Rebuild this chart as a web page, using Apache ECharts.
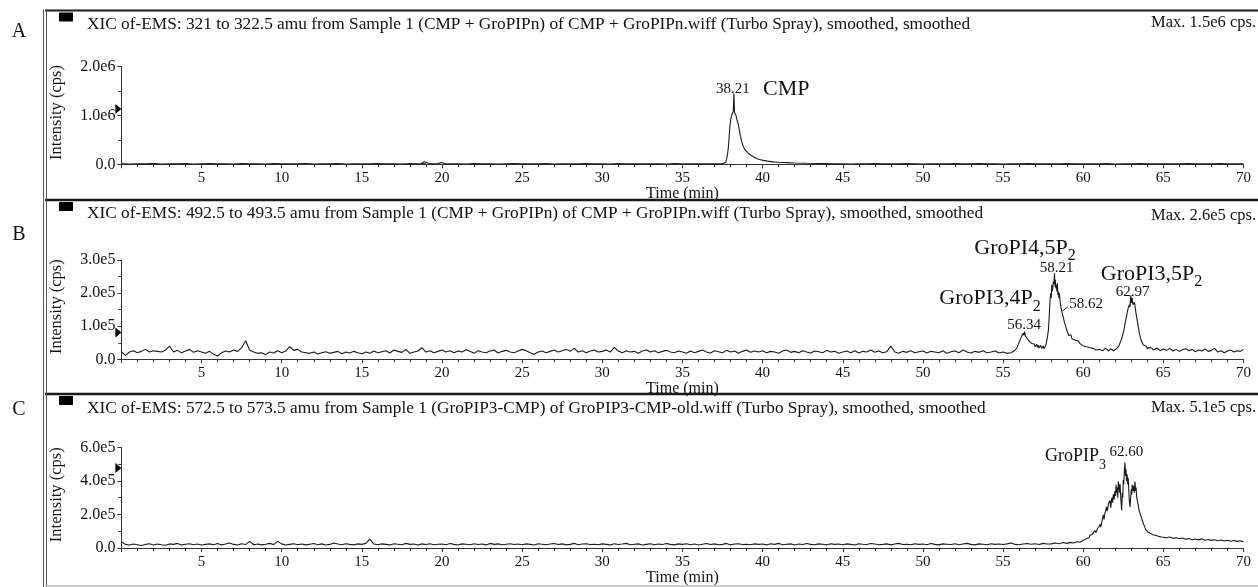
<!DOCTYPE html>
<html>
<head>
<meta charset="utf-8">
<script src="https://cdn.jsdelivr.net/npm/echarts@6/dist/echarts.min.js"></script>
<style>
  html, body { margin: 0; padding: 0; background: #fff; }
  #chart { width: 1258px; height: 587px; }
</style>
</head>
<body>
<div id="chart"></div>
<script>
// ---- Extracted-ion chromatograms (intensity in kcps, time in min) ----

// Panel A: m/z 321-322.5 (CMP)
const cmpBaseEarly = [10,6,12,8,14,7,11,9,15,6,10,13,8,12,7,14,9,11,6,13,
                      8,12,10,15,7,11,9,13,6,12,10,8,14,9,11,7,13,10,9];      // 0 .. 18.5, every 0.5 min
const cmpBumps = [[18.7,12],[18.88,55],[19.05,30],[19.25,10],[19.5,8],[19.75,14],[19.98,35],[20.2,12],[20.5,9]];
const cmpBaseMid = [11,7,13,9,12,6,10,14,8,11,9,13,7,12,10,8,14,9,11,6,13,10,8,12,9,11,7,14,10,8,12,9,11,8]; // 21 .. 37.5
const cmpPeak = [[37.6,10],[37.7,40],[37.8,180],[37.86,330],[37.92,600],[37.97,810],[38.02,930],[38.07,1010],
                 [38.12,1050],[38.17,1080],[38.21,1450],[38.25,1060],[38.3,1030],[38.34,1000],[38.4,910],[38.49,810],
                 [38.59,620],[38.7,460],[38.8,360],[38.9,300],[39.0,260],[39.15,210],[39.32,175],[39.5,140],
                 [39.63,120],[39.8,100],[40.04,80],[40.3,65],[40.65,50],[41.0,42],[41.5,35],[42.0,28],[42.75,20],[43.5,15]];
const cmpBaseLate = [13,9,11,7,12,10,14,8,11,9,13,10,7,12,9,11,14,8,10,13,9,12,7,11,10,14,8,12,9,11,
                     13,8,10,12,9,14,7,11,10,13,8,12,9,11,10,14,8,12,9,13,10,11,9];  // 44 .. 70

// Panel B: m/z 492.5-493.5 (GroPI bisphosphates)
const pi2Base = [23,12,22,26,20,24,30,22,26,24,22,28,40,22,27,20,25,30,21,26,
                 22,18,24,15,10,20,25,22,28,24,35,56,28,22,18,20,14,22,19,26,
                 20,25,38,27,30,22,20,18,22,16,20,23,18,21,24,17,22,19,24,20,
                 17,22,18,25,20,23,26,19,28,24,21,30,18,22,25,35,22,26,20,24,
                 28,22,26,20,25,22,29,24,18,26,22,20,25,28,19,24,27,22,20,25,
                 30,26,20,15,22,25,20,24,28,22,26,30,24,33,22,26,20,25,28,22,
                 24,28,22,36,25,20,26,22,24,18,25,28,22,26,20,24,27,22,20,25,
                 22,18,25,20,24,28,22,19,26,23,20,27,22,25,18,24,28,21,25,22,
                 26,20,24,22,18,25,28,21,24,20,26,22,19,25,23,20,27,22,24,18,
                 22,25,20,26,19,24,22,28,21,25,20,23,40,22,18,24,21,26,20,23,
                 25,19,24,22,20,26,18,23,25,20,28,22,19,24,21,26,20,22,25,19];  // 0 .. 54.75, every 0.25 min
const pi2Peaks = [[55.0,22],[55.25,18],[55.5,20],[55.7,26],[55.85,33],[55.95,45],[56.06,58],[56.12,52],[56.16,70],
                  [56.22,64],[56.26,79],[56.3,72],[56.34,84],[56.4,70],[56.45,76],[56.52,62],[56.58,66],[56.64,54],
                  [56.7,55],[56.79,48],[56.85,52],[56.9,42],[56.95,46],[57.0,38],[57.05,44],[57.1,45],[57.15,36],
                  [57.2,43],[57.25,34],[57.3,36],[57.35,42],[57.41,33],[57.46,38],[57.5,40],[57.56,32],[57.62,38],
                  [57.68,44],[57.72,48],[57.78,70],[57.83,89],[57.88,130],[57.93,179],[57.98,200],[58.01,185],
                  [58.04,225],[58.07,205],[58.1,215],[58.14,235],[58.18,228],[58.21,260],[58.24,220],[58.26,240],
                  [58.29,215],[58.32,225],[58.36,205],[58.39,230],[58.42,195],[58.45,205],[58.48,185],[58.51,200],
                  [58.56,175],[58.62,154],[58.66,150],[58.7,138],[58.75,128],[58.8,124],[58.84,110],[58.88,105],
                  [58.92,98],[58.96,94],[59.0,84],[59.05,80],[59.1,72],[59.17,68],[59.23,74],[59.3,62],[59.38,66],
                  [59.48,58],[59.54,63],[59.6,52],[59.7,55],[59.79,48],[59.87,52],[59.95,42],[60.05,46],[60.2,38],
                  [60.3,42],[60.4,35],[60.5,38],[60.63,33],[60.7,36],[60.8,28],[60.9,34],[61.04,30],[61.1,35],
                  [61.2,26],[61.3,30],[61.4,33],[61.5,27],[61.6,25],[61.7,32],[61.8,30],[61.9,26],[62.0,28],
                  [62.08,32],[62.15,35],[62.22,40],[62.27,45],[62.34,55],[62.4,62],[62.45,72],[62.5,80],[62.55,90],
                  [62.6,105],[62.65,118],[62.7,130],[62.75,142],[62.8,154],[62.84,148],[62.88,165],[62.92,158],
                  [62.97,193],[63.01,170],[63.06,185],[63.1,165],[63.16,160],[63.2,172],[63.23,170],[63.26,150],
                  [63.29,144],[63.33,128],[63.36,120],[63.4,110],[63.43,99],[63.47,90],[63.5,80],[63.54,72],
                  [63.58,63],[63.62,58],[63.66,52],[63.7,48],[63.75,43],[63.8,46],[63.85,38],[63.92,40],[64.0,33]];
const pi2Tail = [36,28,34,26,31,27,33,25,30,24,29,32,26,30,23,28,25,31,24,27,33,22,26,20,25,28,22,26,24,30]; // 64.2 .. 70, every 0.2 min

// Panel C: m/z 572.5-573.5 (GroPIP3)
const pip3Base = [38,22,18,24,20,15,22,26,18,24,20,17,25,22,28,19,23,26,20,24,
                  18,22,25,20,27,19,24,30,22,18,26,21,40,20,24,19,23,28,21,40,
                  25,18,22,26,20,24,19,23,27,20,25,18,22,30,24,20,26,22,19,25,
                  22,28,53,24,20,25,22,19,26,23,20,28,22,24,18,25,21,26,20,23,
                  24,20,27,22,18,25,23,20,26,21,24,19,28,22,25,20,23,26,21,24,
                  20,25,22,18,26,23,20,24,27,21,25,19,22,28,20,24,26,21,23,20,
                  25,22,19,26,21,24,28,20,23,25,18,22,26,20,24,21,27,22,19,25,
                  22,26,20,24,18,23,27,21,25,20,22,28,19,24,26,21,23,20,25,22,
                  24,19,26,22,28,20,23,25,18,24,21,27,22,20,25,23,19,26,22,24,
                  20,25,22,18,26,23,21,27,24,20,22,25,19,24,28,21,23,20,26,22,
                  24,20,27,22,19,25,23,21,26,20,24,28,22,19,25,23,20,26,22,24,
                  21,25,30,22,20,24,27,23,26,21,28,24,25,30,26,33];  // 0 .. 58.75, every 0.25 min
const pip3Peak = [[59.0,28],[59.1,22],[59.2,34],[59.3,26],[59.4,30],[59.5,24],[59.6,38],[59.7,30],[59.8,35],[59.9,40],
                  [60.0,47],[60.1,38],[60.2,55],[60.3,48],[60.36,62],[60.42,75],[60.5,64],[60.56,82],[60.6,90],
                  [60.66,78],[60.73,104],[60.8,92],[60.85,100],[60.9,118],[60.95,108],[61.0,130],[61.05,142],
                  [61.1,125],[61.15,150],[61.2,175],[61.26,198],[61.3,170],[61.35,205],[61.4,215],[61.46,245],
                  [61.5,220],[61.55,250],[61.6,270],[61.67,283],[61.72,240],[61.78,300],[61.83,270],[61.88,320],
                  [61.93,290],[61.98,340],[62.02,310],[62.05,377],[62.09,330],[62.12,360],[62.16,300],[62.19,396],
                  [62.23,370],[62.27,330],[62.3,380],[62.35,290],[62.4,226],[62.44,330],[62.47,300],[62.5,406],
                  [62.53,380],[62.56,450],[62.6,510],[62.64,430],[62.67,470],[62.7,400],[62.74,440],[62.78,380],
                  [62.81,415],[62.85,330],[62.88,280],[62.92,245],[62.96,300],[63.0,350],[63.03,320],[63.06,377],
                  [63.1,340],[63.15,370],[63.19,330],[63.23,396],[63.27,340],[63.3,360],[63.34,300],[63.38,310],
                  [63.42,260],[63.46,270],[63.5,220],[63.55,230],[63.6,190],[63.65,185],[63.7,160],[63.75,151],
                  [63.8,135],[63.85,128],[63.9,110],[63.96,108],[64.03,96],[64.1,98],[64.18,88],[64.27,90],
                  [64.35,80],[64.4,84],[64.5,76],[64.59,79],[64.7,70],[64.8,73],[64.9,66]];
const pip3Tail = [68,62,66,58,62,56,60,52,57,50,54,49,55,47,51,46,50,44,48,42,47,41,45,40,44,37]; // 65 .. 70, every 0.2 min

// Axis ticks
const timeRange = [0, 70], timeStep = 5;
const yRanges = [[0, 2000, 1000], [0, 300, 100], [0, 600, 200]];   // kcps

// Header texts
const panelLetters = ['A', 'B', 'C'];
const panelTitles = [
  'XIC of-EMS: 321 to 322.5 amu from Sample 1 (CMP + GroPIPn) of CMP + GroPIPn.wiff (Turbo Spray), smoothed, smoothed',
  'XIC of-EMS: 492.5 to 493.5 amu from Sample 1 (CMP + GroPIPn) of CMP + GroPIPn.wiff (Turbo Spray), smoothed, smoothed',
  'XIC of-EMS: 572.5 to 573.5 amu from Sample 1 (GroPIP3-CMP) of GroPIP3-CMP-old.wiff (Turbo Spray), smoothed, smoothed'
];
const panelMax = ['Max. 1.5e6 cps.', 'Max. 2.6e5 cps.', 'Max. 5.1e5 cps.'];
const maxMarkers = [1135, 81, 477];   // kcps level of the small arrow on each intensity axis

// ---- helpers ----
const FONT = '"Liberation Serif", "Times New Roman", Times, serif';
const INK = '#111';

function onGrid(start, step, values) {
  return values.map((v, i) => [+(start + i * step).toFixed(2), v]);
}
function sci(v) {
  return v === 0 ? '0.0' : (v * 1000).toExponential(1).replace('e+', 'e');
}

const traces = [
  [].concat(onGrid(0, 0.5, cmpBaseEarly), cmpBumps, onGrid(21, 0.5, cmpBaseMid), cmpPeak, onGrid(44, 0.5, cmpBaseLate)),
  [].concat(onGrid(0, 0.25, pi2Base), pi2Peaks, onGrid(64.2, 0.2, pi2Tail)),
  [].concat(onGrid(0, 0.25, pip3Base), pip3Peak, onGrid(65, 0.2, pip3Tail))
];

// layout of the three plotting areas
const grids = [
  { left: 121.4, width: 1122.1, top: 66.7, height: 97.6 },
  { left: 121.4, width: 1122.1, top: 260, height: 99.3 },
  { left: 121.4, width: 1122.1, top: 447.3, height: 106 }
];
const timeNameGap = [21, 15, 18];

const richSub = {
  m: { fontFamily: FONT, fontSize: 22, color: INK },
  s: { fontFamily: FONT, fontSize: 16, color: INK, padding: [16, 0, 0, 0] },
  ms: { fontFamily: FONT, fontSize: 18, color: INK },
  ss: { fontFamily: FONT, fontSize: 14, color: INK, padding: [18, 0, 0, 0] }
};

function tag(coord, text, dx, dy, size) {
  return {
    coord: coord, symbol: 'circle', symbolSize: 1,
    itemStyle: { color: 'rgba(0,0,0,0)' },
    label: {
      show: true, position: 'inside', offset: [dx, dy], formatter: text,
      fontFamily: FONT, fontSize: size || 15, color: INK, rich: richSub
    }
  };
}
function arrow(level) {
  return {
    coord: [0, level], symbol: 'triangle', symbolSize: [10, 6], symbolRotate: -90,
    symbolOffset: [-3, 0], itemStyle: { color: '#000' }, label: { show: false }
  };
}

const peakTags = [
  [tag([38.21, 1450], '38.21', -1, -4.5), tag([38.21, 1450], 'CMP', 52.4, -4.4, 22)],
  [tag([58.21, 260], '58.21', 2, -5),
   tag([58.21, 260], '{m|GroPI4,5P}{s|2}', -29.5, -25),
   tag([62.97, 193], '62.97', 1.7, -3.7),
   tag([62.97, 193], '{m|GroPI3,5P}{s|2}', 20.7, -21.4),
   tag([56.34, 84], '56.34', -0.5, -6.5),
   tag([56.34, 84], '{m|GroPI3,4P}{s|2}', -34.5, -33),
   tag([58.62, 154], '58.62', 25, -4)],
  [tag([62.6, 510], '62.60', 1.6, -10),
   tag([62.6, 510], '{ms|GroPIP}{ss|3}', -49.4, -5.7)]
];

const xAxes = grids.map((g, i) => ({
  type: 'value', gridIndex: i, min: timeRange[0], max: timeRange[1], interval: timeStep,
  axisLine: { lineStyle: { color: '#333', width: 1 } },
  axisTick: { show: true, length: 4, lineStyle: { color: '#333' } },
  minorTick: { show: true, splitNumber: 5, length: 3, lineStyle: { color: '#333' } },
  splitLine: { show: false }, minorSplitLine: { show: false },
  axisLabel: { color: INK, fontFamily: FONT, fontSize: 15, margin: 6, showMinLabel: false },
  name: 'Time (min)', nameLocation: 'middle', nameGap: timeNameGap[i],
  nameTextStyle: { color: INK, fontFamily: FONT, fontSize: 16 }
}));

const yAxes = yRanges.map((r, i) => ({
  type: 'value', gridIndex: i, min: r[0], max: r[1], interval: r[2],
  axisLine: { show: true, lineStyle: { color: '#333', width: 1 } },
  axisTick: { show: true, length: 4, lineStyle: { color: '#333' } },
  minorTick: { show: true, splitNumber: 2, length: 3, lineStyle: { color: '#333' } },
  splitLine: { show: false }, minorSplitLine: { show: false },
  axisLabel: { color: INK, fontFamily: FONT, fontSize: 16, margin: 6, formatter: sci },
  name: 'Intensity (cps)', nameLocation: 'middle', nameGap: 56,
  nameTextStyle: { color: INK, fontFamily: FONT, fontSize: 16.5, padding: [0, 0, 0, 6] }
}));

const series = traces.map((d, i) => ({
  type: 'line', xAxisIndex: i, yAxisIndex: i, data: d,
  showSymbol: false, symbol: 'none', sampling: null, clip: false,
  lineStyle: { color: '#1a1a1a', width: 1.1 },
  markPoint: { silent: true, animation: false, data: peakTags[i].concat([arrow(maxMarkers[i])]) },
  markLine: i === 1 ? {
    silent: true, animation: false, symbol: ['none', 'none'],
    lineStyle: { color: '#222', width: 1, type: 'solid' }, label: { show: false },
    data: [[{ coord: [58.72, 146] }, { coord: [59.03, 158] }]]
  } : undefined
}));

// panel frames and headers
const frameTops = [10.5, 200, 394];
const titleY = [24.5, 213.3, 408.3];
const maxY = [22.5, 216, 407.7];
const letterY = [32, 235, 410];
const graphics = [];
frameTops.forEach((y, i) => {
  graphics.push({ type: 'line', shape: { x1: 45, y1: y, x2: 1258, y2: y },
                  style: { stroke: '#1a1a1a', lineWidth: i === 0 ? 2 : 2.5 }, z: 50 });
  graphics.push({ type: 'rect', shape: { x: 59, y: y + 2, width: 14, height: 9 },
                  style: { fill: '#000' }, z: 50 });
  graphics.push({ type: 'text', x: 87, y: titleY[i], z: 50,
                  style: { text: panelTitles[i], fontFamily: FONT, fontSize: 17.3, fill: INK, verticalAlign: 'middle' } });
  graphics.push({ type: 'text', x: 1256, y: maxY[i], z: 50,
                  style: { text: panelMax[i], fontFamily: FONT, fontSize: 16.5, fill: INK, align: 'right', verticalAlign: 'middle' } });
  graphics.push({ type: 'text', x: 19, y: letterY[i], z: 50,
                  style: { text: panelLetters[i], fontFamily: FONT, fontSize: 20, fill: INK, align: 'center', verticalAlign: 'middle' } });
});
graphics.push({ type: 'line', shape: { x1: 43.5, y1: 9.5, x2: 43.5, y2: 587 }, style: { stroke: '#555', lineWidth: 1 }, z: 50 });
graphics.push({ type: 'line', shape: { x1: 46.5, y1: 9.5, x2: 46.5, y2: 587 }, style: { stroke: '#555', lineWidth: 1 }, z: 50 });
graphics.push({ type: 'line', shape: { x1: 45, y1: 586, x2: 1258, y2: 586 }, style: { stroke: '#bbb', lineWidth: 1.5 }, z: 50 });

const chart = echarts.init(document.getElementById('chart'), null, { renderer: 'canvas' });
chart.setOption({
  animation: false,
  backgroundColor: '#fff',
  grid: grids,
  xAxis: xAxes,
  yAxis: yAxes,
  series: series,
  graphic: { elements: graphics }
});
</script>
</body>
</html>
